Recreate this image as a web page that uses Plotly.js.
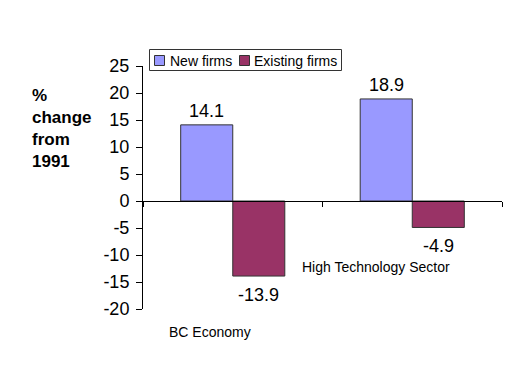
<!DOCTYPE html>
<html>
<head>
<meta charset="utf-8">
<script src="https://cdn.plot.ly/plotly-3.0.1.min.js"></script>
<style>html,body{margin:0;padding:0;background:#fff;}#chart{width:531px;height:375px;}</style>
</head>
<body>
<div id="chart"></div>
<script>
const categories = ["BC Economy", "High Technology Sector"];
const newFirms = [14.1, 18.9];
const existingFirms = [-13.9, -4.9];
const seriesNames = ["New firms", "Existing firms"];
const seriesColors = ["#9999FF", "#993366"];
const yTicks = [-20, -15, -10, -5, 0, 5, 10, 15, 20, 25];

const FONT = "Liberation Sans, Arial, sans-serif";

const traces = [
  {type: "bar", name: seriesNames[0], x: categories, y: newFirms,
   marker: {color: seriesColors[0], line: {color: "#333333", width: 1}}, hoverinfo: "none"},
  {type: "bar", name: seriesNames[1], x: categories, y: existingFirms,
   marker: {color: seriesColors[1], line: {color: "#333333", width: 1}}, hoverinfo: "none"}
];

const L = 143, R = 29, T = 66, B = 66, W = 531, H = 375;
const pw = W - L - R, ph = H - T - B;
const px = x => (x - L) / pw;
const py = y => (H - B - y) / ph;

const annotations = [];
const seriesVals = [newFirms, existingFirms];
const shifts = [-26, 26];
seriesVals.forEach((vals, s) => {
  vals.forEach((v, i) => {
    annotations.push({x: categories[i], y: v, xref: "x", yref: "y", text: String(v),
      showarrow: false, xshift: shifts[s], yshift: v >= 0 ? 14 : -19, yanchor: "middle",
      font: {family: FONT, size: 18, color: "#000"}});
  });
});
// category labels (placed as in the original)
annotations.push({x: px(210), y: py(332), xref: "paper", yref: "paper", text: categories[0], showarrow: false,
  xanchor: "center", yanchor: "middle", font: {family: FONT, size: 14, color: "#000"}});
annotations.push({x: px(376), y: py(267), xref: "paper", yref: "paper", text: categories[1], showarrow: false,
  xanchor: "center", yanchor: "middle", font: {family: FONT, size: 14, color: "#000"}});
// y title
annotations.push({x: px(30), y: py(84), xref: "paper", yref: "paper", text: "%<br>change<br>from<br>1991",
  showarrow: false, align: "left", xanchor: "left", yanchor: "top",
  font: {family: FONT, size: 17, color: "#000", weight: "bold"}});

// legend (drawn as in the original: compact boxed legend)
const shapes = [
  {type: "rect", xref: "paper", yref: "paper", x0: px(149.5), x1: px(341.5), y0: py(49.5), y1: py(70.5),
   line: {color: "#333", width: 1}, fillcolor: "#fff", layer: "above"}
];
const swatchX = [154.5, 239.5];
const textX = [168, 252];
seriesNames.forEach((n, s) => {
  shapes.push({type: "rect", xref: "paper", yref: "paper", x0: px(swatchX[s]), x1: px(swatchX[s] + 10),
    y0: py(55.5), y1: py(65.5), line: {color: "#333", width: 1}, fillcolor: seriesColors[s], layer: "above"});
  annotations.push({x: px(textX[s]), y: py(60.5), xref: "paper", yref: "paper", text: n, showarrow: false,
    xanchor: "left", yanchor: "middle", font: {family: FONT, size: 14, color: "#000"}});
});

const layout = {
  width: W, height: H,
  margin: {l: L, r: R, t: T, b: B},
  paper_bgcolor: "#fff", plot_bgcolor: "#fff",
  barmode: "group", bargap: 0.42, bargroupgap: 0,
  font: {family: FONT, color: "#000"},
  showlegend: false,
  xaxis: {type: "category", range: [-0.5, 1.5], anchor: "free", position: (0 - (-20)) / 45,
    showline: true, linecolor: "#000", linewidth: 1, ticks: "outside", tickson: "boundaries",
    ticklen: 5, tickcolor: "#000", showticklabels: false, showgrid: false, zeroline: false, fixedrange: true},
  yaxis: {range: [-20, 25], tickvals: yTicks, ticktext: yTicks.map(String), showline: true,
    linecolor: "#000", linewidth: 1, ticks: "outside", ticklen: 6, tickcolor: "#000", ticklabelstandoff: 3,
    tickfont: {family: FONT, size: 18, color: "#000"}, showgrid: false, zeroline: false, fixedrange: true},
  shapes: shapes,
  annotations: annotations
};

Plotly.newPlot("chart", traces, layout, {staticPlot: true});
</script>
</body>
</html>
